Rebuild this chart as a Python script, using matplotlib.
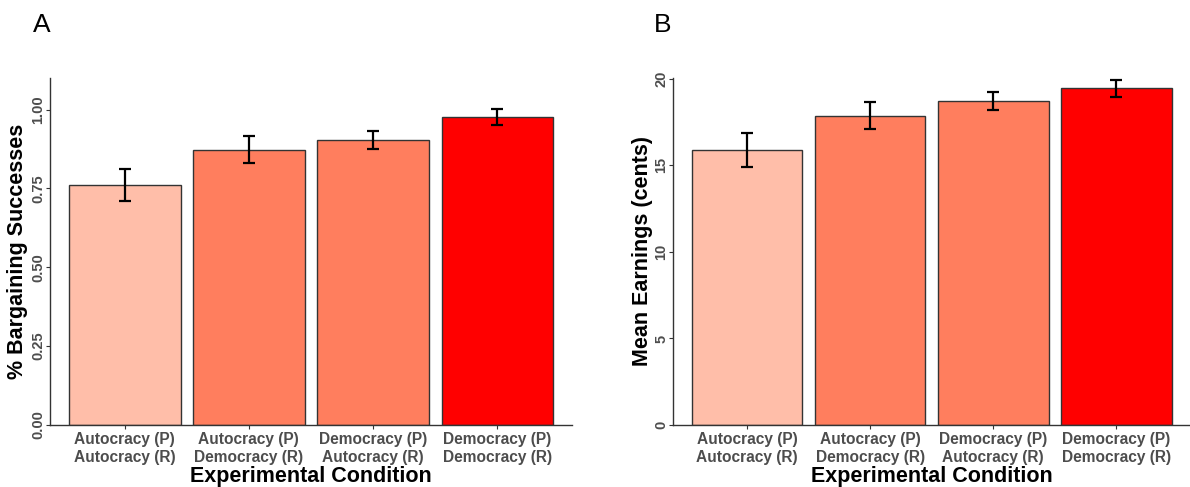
import matplotlib
matplotlib.use("Agg")
import matplotlib.pyplot as plt
import numpy as np

plt.rcParams['font.family'] = ['Liberation Sans', 'DejaVu Sans']

conditions = ["Autocracy (P)\nAutocracy (R)", "Autocracy (P)\nDemocracy (R)",
              "Democracy (P)\nAutocracy (R)", "Democracy (P)\nDemocracy (R)"]
success_mean = [0.760, 0.872, 0.903, 0.976]
success_err = [0.050, 0.043, 0.029, 0.025]
earn_mean = [15.87, 17.87, 18.73, 19.46]
earn_err = [0.98, 0.78, 0.53, 0.49]
bar_colors = ["#FFBEA9", "#FF7E5E", "#FF7E5E", "#FF0000"]

fig = plt.figure(figsize=(11.9, 4.87), dpi=100)
axA = fig.add_axes([50/1190, 1-425/487, (572-50)/1190, (425-78)/487])
axB = fig.add_axes([673.3/1190, 1-425/487, (1190-673.3)/1190, (425-78)/487])

def draw(ax, means, errs, ylim, yticks, yticklabels, ylabel, label_x):
    x = np.arange(1, len(means)+1)
    ax.bar(x, means, width=0.9, color=bar_colors, edgecolor="#333333", linewidth=1.0, zorder=2)
    ax.errorbar(x, means, yerr=errs, fmt='none', ecolor='black', elinewidth=1.6,
                capsize=4, capthick=1.6, zorder=3)
    ax.set_xlim(0.4, 4.6)
    ax.set_ylim(*ylim)
    ax.set_yticks(yticks)
    ax.set_yticklabels(yticklabels, rotation=90, va='center', fontsize=10.5,
                       color='#4D4D4D', fontweight='bold')
    ax.set_xticks(x)
    ax.set_xticklabels(conditions, fontsize=11.2, color='#4D4D4D', fontweight='bold',
                       linespacing=1.22)
    for s in ['top', 'right']:
        ax.spines[s].set_visible(False)
    for s in ['left', 'bottom']:
        ax.spines[s].set_color('#333333')
        ax.spines[s].set_linewidth(1.0)
    ax.tick_params(axis='x', length=3, width=0.8, color='#333333', pad=2)
    ax.tick_params(axis='y', length=3, width=0.8, color='#333333', pad=0.5)
    ax.set_xlabel("Experimental Condition", fontsize=15.5, fontweight='bold', labelpad=1)
    ax.set_ylabel(ylabel, fontsize=15.5, fontweight='bold')
    ax.yaxis.set_label_coords(label_x, 0.5)

draw(axA, success_mean, success_err, (0, 1.1), [0, 0.25, 0.5, 0.75, 1.0],
     ["0.00", "0.25", "0.50", "0.75", "1.00"], "% Bargaining Successes", -0.042)
draw(axB, earn_mean, earn_err, (0, 20.05), [0, 5, 10, 15, 20],
     ["0", "5", "10", "15", "20"], "Mean Earnings (cents)", -0.040)

fig.text(33/1190, 1-32/487, "A", fontsize=19, ha='left', va='baseline')
fig.text(654/1190, 1-32/487, "B", fontsize=19, ha='left', va='baseline')

fig.savefig("out.png", dpi=100)
